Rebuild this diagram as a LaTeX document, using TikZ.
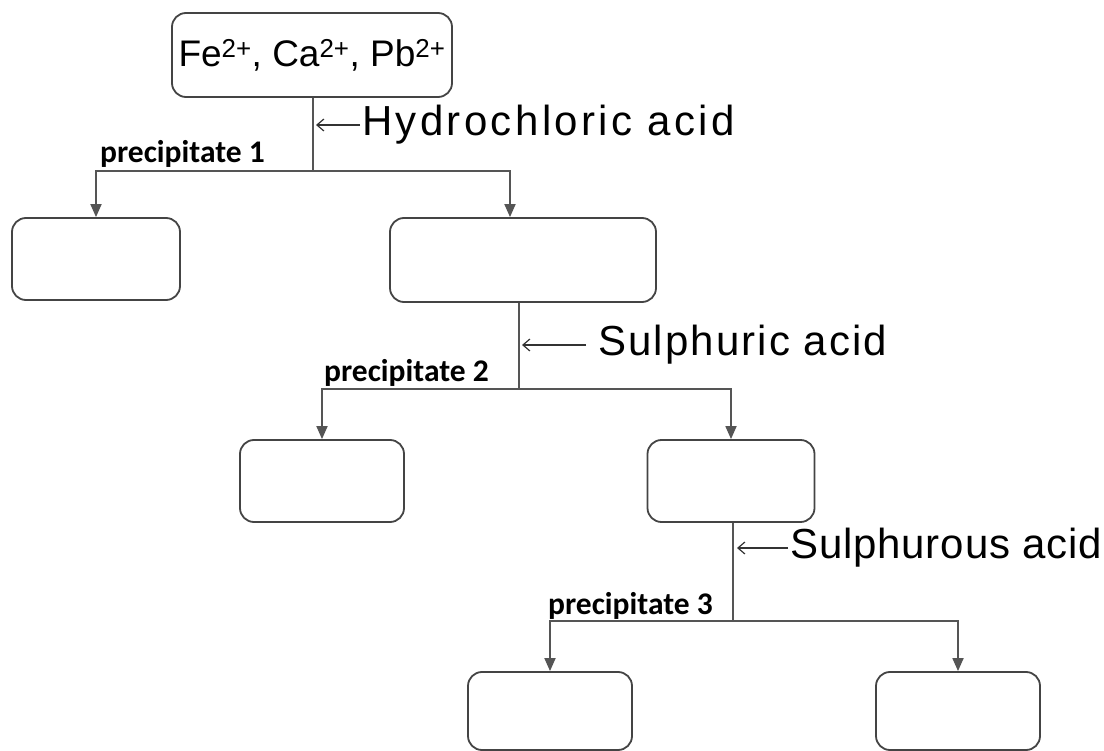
\documentclass[tikz,border=0pt]{standalone}
\usepackage{fontspec}
\setmainfont{Liberation Sans}
\newfontfamily\labfont{Carlito}
\newfontfamily\handA[LetterSpace=8]{Liberation Sans}
\newfontfamily\handB[LetterSpace=5]{Liberation Sans}
\newfontfamily\handC[LetterSpace=2]{Liberation Sans}
\usetikzlibrary{arrows.meta,calc}
\definecolor{linec}{HTML}{555555}
\definecolor{boxc}{HTML}{444444}
\begin{document}
\begin{tikzpicture}[x=1pt,y=-1pt,
  box/.style={draw=boxc, line width=1.8pt, rounded corners=14pt, inner sep=0pt},
  conn/.style={draw=linec, line width=1.8pt},
  connarr/.style={conn, -{Triangle[length=13pt,width=11pt]}},
  hand/.style={inner sep=2pt, anchor=west},
  handarr/.style={draw=black!80, line width=1.2pt, -{Straight Barb[length=7pt,width=12pt]}},
  prec/.style={font=\labfont\bfseries\fontsize{31.5}{34}\selectfont, inner sep=0pt, anchor=base west}]
\useasboundingbox (0,0) rectangle (1104,751);
% boxes
\node[box, minimum width=280pt, minimum height=84pt, font=\fontsize{37}{40}\selectfont] (top) at (312,55) {Fe\textsuperscript{2+}, Ca\textsuperscript{2+}, Pb\textsuperscript{2+}};
\node[box, minimum width=168pt, minimum height=82pt] (L1) at (96,259) {};
\node[box, minimum width=266pt, minimum height=84pt] (R1) at (523,260) {};
\node[box, minimum width=164pt, minimum height=82pt] (L2) at (322,481) {};
\node[box, minimum width=167pt, minimum height=82pt] (R2) at (731,481) {};
\node[box, minimum width=164pt, minimum height=78pt] (L3) at (550,711) {};
\node[box, minimum width=164pt, minimum height=78pt] (R3) at (958,711) {};
% junctions
\coordinate (j1) at ($(top.south)+(1,73)$);
\coordinate (j2) at ($(R1.south)+(-4,86)$);
\coordinate (j3) at ($(R2.south)+(2,98)$);
% connectors
\draw[conn] ($(top.south)+(1,0)$) -- (j1);
\draw[connarr] (j1) -| (L1.north);
\draw[connarr] (j1) -| ($(R1.north)+(-13,0)$);
\draw[conn] ($(R1.south)+(-4,0)$) -- (j2);
\draw[connarr] (j2) -| (L2.north);
\draw[connarr] (j2) -| (R2.north);
\draw[conn] ($(R2.south)+(2,0)$) -- (j3);
\draw[connarr] (j3) -| (L3.north);
\draw[connarr] (j3) -| (R3.north);
% labels
\node[prec] (p1) at (100,163) {precipitate 1};
\node[prec] (p2) at (324,382) {precipitate 2};
\node[prec] (p3) at (548,614) {precipitate 3};
% reagents
\node[hand, font=\handA\fontsize{42}{48}\selectfont] (hcl) at (360,125) {Hydrochloric acid};
\coordinate (a1) at (316,125);
\draw[handarr] (hcl.west) -- (a1);
\node[hand, font=\handB\fontsize{42}{48}\selectfont] (h2so4) at (596,345) {Sulphuric acid};
\coordinate (a2) at (522,345);
\draw[handarr] ($(h2so4.west)+(-10,0)$) -- (a2);
\node[hand, font=\handC\fontsize{42}{48}\selectfont] (h2so3) at (788,548) {Sulphurous acid};
\coordinate (a3) at (737,548);
\draw[handarr] (h2so3.west) -- (a3);
\end{tikzpicture}
\end{document}
